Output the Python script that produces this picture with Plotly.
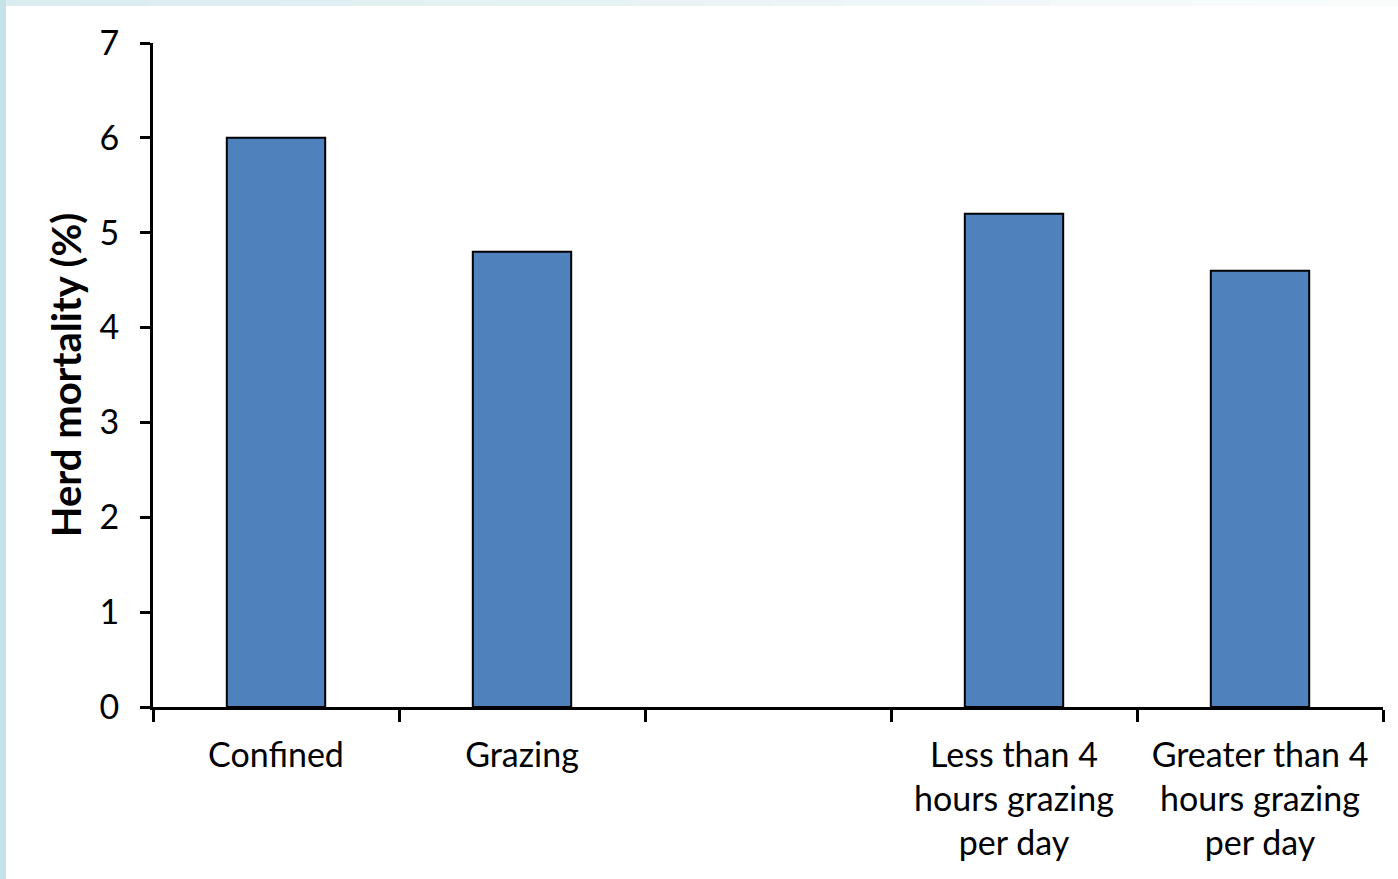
import plotly.graph_objects as go

categories = [
    "Confined",
    "Grazing",
    " ",
    "Less than 4<br>hours grazing<br>per day",
    "Greater than 4<br>hours grazing<br>per day",
]
mortality = [6.0, 4.8, None, 5.2, 4.6]
y_ticks = [0, 1, 2, 3, 4, 5, 6, 7]

W, H = 1398, 879
ml, mr, mt, mb = 153, 15, 43, 172
pw = W - ml - mr
ph = H - mt - mb

fig = go.Figure(
    go.Bar(
        x=categories,
        y=mortality,
        width=0.4,
        marker=dict(color="#4f81bd", line=dict(color="#000000", width=2)),
        hoverinfo="x+y",
    )
)

FONT = "Lato, Carlito, Calibri, sans-serif"

# light frame strips along the left and top page edges
shapes = [
    dict(type="rect", xref="paper", yref="paper",
         x0=-ml / pw, x1=(6 - ml) / pw, y0=-mb / ph, y1=1 + mt / ph,
         fillcolor="#c3e3e7", line=dict(width=0), layer="below"),
]
n_seg = 20
for i in range(n_seg):
    t = i / (n_seg - 1)
    r = int(0xda + (0xfa - 0xda) * t)
    g = int(0xec + (0xfc - 0xec) * t)
    b = int(0xef + (0xfc - 0xef) * t)
    x0 = (6 - ml + i * (W - 6) / n_seg) / pw
    x1 = (6 - ml + (i + 1) * (W - 6) / n_seg) / pw + 0.001
    shapes.append(dict(type="rect", xref="paper", yref="paper",
                       x0=x0, x1=x1, y0=1 + (mt - 6) / ph, y1=1 + mt / ph,
                       fillcolor=f"rgb({r},{g},{b})", line=dict(width=0), layer="below"))

fig.update_layout(
    width=W,
    height=H,
    margin=dict(l=ml, r=mr, t=mt, b=mb),
    paper_bgcolor="#ffffff",
    plot_bgcolor="#ffffff",
    font=dict(family=FONT, size=34, color="#000000"),
    showlegend=False,
    bargap=0.6,
    shapes=shapes,
    xaxis=dict(
        type="category",
        categoryorder="array",
        categoryarray=categories,
        showline=True,
        linecolor="#000000",
        linewidth=3,
        ticks="outside",
        tickson="boundaries",
        ticklen=12,
        tickwidth=3,
        tickcolor="#000000",
        showgrid=False,
        zeroline=False,
        ticklabelstandoff=16,
        tickfont=dict(family=FONT, size=34),
    ),
    yaxis=dict(
        range=[0, 7],
        tickvals=y_ticks,
        showline=True,
        linecolor="#000000",
        linewidth=3,
        ticks="outside",
        ticklen=10,
        tickwidth=3,
        tickcolor="#000000",
        showgrid=False,
        zeroline=False,
        ticklabelstandoff=14,
        tickfont=dict(family=FONT, size=34),
        title=dict(text="<b>Herd mortality (%)</b>", font=dict(family=FONT, size=40), standoff=6),
    ),
)

fig.write_html("out.html")
